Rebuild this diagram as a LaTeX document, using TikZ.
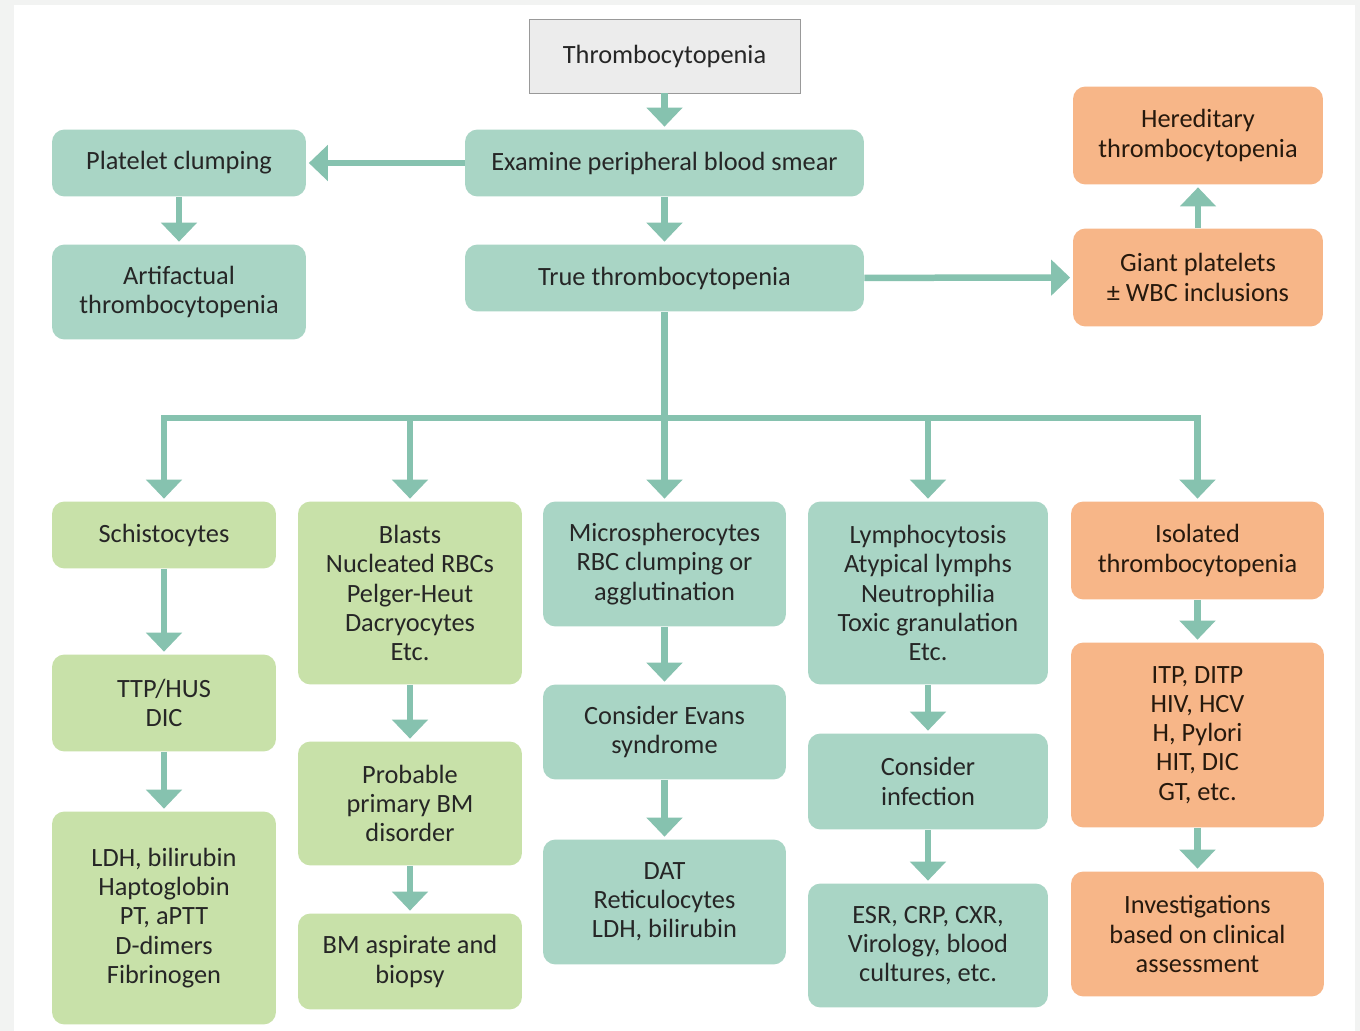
\documentclass[tikz,border=0pt]{standalone}
\usepackage{fontspec}
\setmainfont{Carlito}
\usetikzlibrary{arrows.meta}

\definecolor{tealfill}{HTML}{A9D5C5}
\definecolor{greenfill}{HTML}{C8E1A9}
\definecolor{orangefill}{HTML}{F7B688}
\definecolor{arrowcol}{HTML}{86C2AF}
\definecolor{greyfill}{HTML}{ECECEC}
\definecolor{edgegrey}{HTML}{F2F3F2}

\begin{document}
\begin{tikzpicture}[x=0.02cm, y=-0.02cm,
        box/.style={rounded corners=0.25cm, align=center, inner sep=2pt,
            font=\fontsize{15pt}{16.6pt}\selectfont, text=black!85},
        tealbox/.style={box, fill=tealfill},
        greenbox/.style={box, fill=greenfill},
        orangebox/.style={box, fill=orangefill, text=black!80!brown},
        link/.style={draw=arrowcol, line width=0.13cm,
            -{Triangle[width=0.7cm, length=0.38cm]}, shorten >=0.05cm}]
        % page and border
        \fill[edgegrey] (0,0) rectangle (1360,1031);
        \fill[white] (14,5) rectangle (1355,1031);
        \useasboundingbox (0,0) rectangle (1360,1031);

        % top part
        \node[box, fill=greyfill, draw=black!40, rounded corners=0pt,
            minimum width=5.42cm, minimum height=1.48cm] (thromb) at (664.5,56) {Thrombocytopenia};
        \node[tealbox, minimum width=7.98cm, minimum height=1.34cm] (smear) at (664.5,163) {Examine peripheral blood smear};
        \node[tealbox, minimum width=5.08cm, minimum height=1.34cm] (clump) at (179,163) {Platelet clumping};
        \node[tealbox, minimum width=5.08cm, minimum height=1.9cm] (artif) at (179,292) {Artifactual\\thrombocytopenia};
        \node[tealbox, minimum width=7.98cm, minimum height=1.34cm] (truet) at (664.5,278) {True thrombocytopenia};
        \node[orangebox, minimum width=5cm, minimum height=1.96cm] (giant) at (1198,277.5) {Giant platelets\\± WBC inclusions};
        \node[orangebox, minimum width=5cm, minimum height=1.96cm] (hered) at (1198,135.5) {Hereditary\\thrombocytopenia};

        % columns
        \node[greenbox, minimum width=4.48cm, minimum height=1.34cm] (schis) at (164,535) {Schistocytes};
        \node[greenbox, minimum width=4.48cm, minimum height=1.94cm] (ttp) at (164,703) {TTP/HUS\\DIC};
        \node[greenbox, minimum width=4.48cm, minimum height=4.26cm] (ldh) at (164,918) {LDH, bilirubin\\Haptoglobin\\PT, aPTT\\D-dimers\\Fibrinogen};

        \node[greenbox, minimum width=4.48cm, minimum height=3.66cm] (blasts) at (410,593) {Blasts\\Nucleated RBCs\\Pelger-Heut\\Dacryocytes\\Etc.};
        \node[greenbox, minimum width=4.48cm, minimum height=2.48cm] (probbm) at (410,803.5) {Probable\\primary BM\\disorder};
        \node[greenbox, minimum width=4.48cm, minimum height=1.92cm] (bmasp) at (410,961.5) {BM aspirate and\\biopsy};

        \node[tealbox, minimum width=4.86cm, minimum height=2.5cm] (micro) at (664.5,564) {Microspherocytes\\RBC clumping or\\agglutination};
        \node[tealbox, minimum width=4.86cm, minimum height=1.9cm] (evans) at (664.5,732) {Consider Evans\\syndrome};
        \node[tealbox, minimum width=4.86cm, minimum height=2.5cm] (dat) at (664.5,902) {DAT\\Reticulocytes\\LDH, bilirubin};

        \node[tealbox, minimum width=4.8cm, minimum height=3.66cm] (lympho) at (928,593) {Lymphocytosis\\Atypical lymphs\\Neutrophilia\\Toxic granulation\\Etc.};
        \node[tealbox, minimum width=4.8cm, minimum height=1.92cm] (infect) at (928,781.5) {Consider\\infection};
        \node[tealbox, minimum width=4.8cm, minimum height=2.48cm] (esr) at (928,945.5) {ESR, CRP, CXR,\\Virology, blood\\cultures, etc.};

        \node[orangebox, minimum width=5.06cm, minimum height=1.96cm] (isol) at (1197.5,550.5) {Isolated\\thrombocytopenia};
        \node[orangebox, minimum width=5.06cm, minimum height=3.7cm] (itp) at (1197.5,735) {ITP, DITP\\HIV, HCV\\H, Pylori\\HIT, DIC\\GT, etc.};
        \node[orangebox, minimum width=5.06cm, minimum height=2.5cm] (invest) at (1197.5,934) {Investigations\\based on clinical\\assessment};

        % connectors
        \draw[link] (thromb) -- (smear);
        \draw[link] (smear) -- (clump);
        \draw[link] (clump) -- (artif);
        \draw[link] (smear) -- (truet);
        \draw[link] (truet) -- (giant);
        \draw[link] (giant) -- (hered);

        \coordinate (split) at (664.5,418);
        \draw[draw=arrowcol, line width=0.13cm] (truet.south) -- (split);
        \draw[draw=arrowcol, line width=0.13cm, line cap=rect]
            (schis.north |- split) -- (isol.north |- split);
        \foreach \col in {schis, blasts, micro, lympho, isol}
            \draw[link] (\col.north |- split) -- (\col.north);

        \draw[link] (schis) -- (ttp);
        \draw[link] (ttp) -- (ldh);
        \draw[link] (blasts) -- (probbm);
        \draw[link] (probbm) -- (bmasp);
        \draw[link] (micro) -- (evans);
        \draw[link] (evans) -- (dat);
        \draw[link] (lympho) -- (infect);
        \draw[link] (infect) -- (esr);
        \draw[link] (isol) -- (itp);
        \draw[link] (itp) -- (invest);
    \end{tikzpicture}
\end{document}
